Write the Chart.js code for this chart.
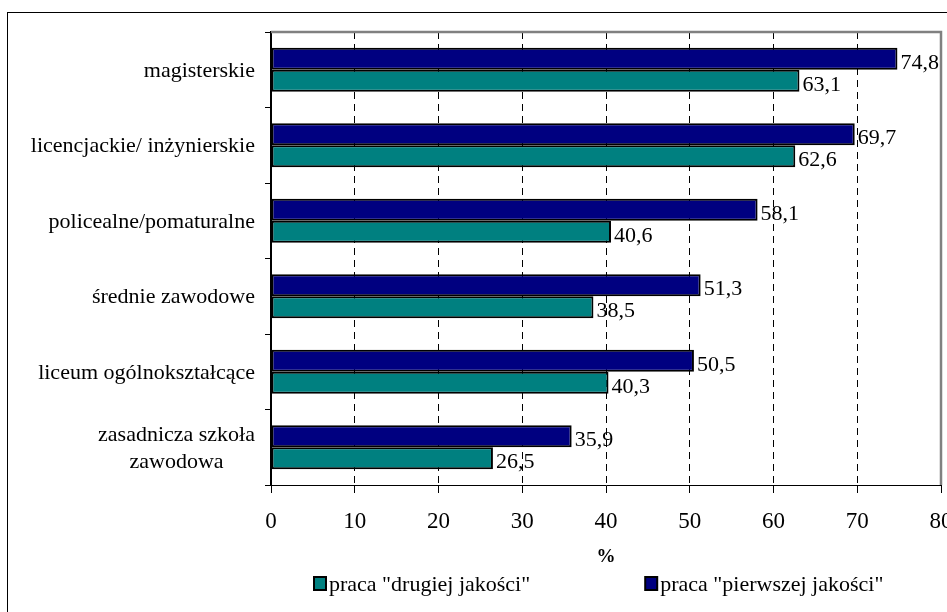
<!DOCTYPE html>
<html>
<head>
<meta charset="utf-8">
<script src="https://cdn.jsdelivr.net/npm/chart.js@4/dist/chart.umd.min.js"></script>
<style>
  html, body { margin: 0; padding: 0; background: #fff; overflow: hidden; }
  #wrap { position: relative; width: 947px; height: 612px; }
</style>
</head>
<body>
<div id="wrap"><canvas id="chartWyksztalcenie" width="947" height="612"></canvas></div>
<script>
// Kategorie wykształcenia (od góry)
const kategorie = [
  ['magisterskie'],
  ['licencjackie/ inżynierskie'],
  ['policealne/pomaturalne'],
  ['średnie zawodowe'],
  ['liceum ogólnokształcące'],
  ['zasadnicza szkoła', 'zawodowa']
];
// Udział (%) wg rodzaju pracy
const pierwszejJakosci = [74.8, 69.7, 58.1, 51.3, 50.5, 35.9];
const drugiejJakosci = [63.1, 62.6, 40.6, 38.5, 40.3, 26.5];
// Oś X
const osXMin = 0;
const osXMax = 80;
const osXKrok = 10;

const FONT = '"Liberation Serif", "Times New Roman", serif';

// Ramka wykresu, etykiety kategorii, wartości słupków i legenda
const rysowanie = {
  id: 'rysowanie',
  beforeDraw(chart) {
    const ctx = chart.ctx;
    ctx.save();
    ctx.strokeStyle = '#000';
    ctx.lineWidth = 1;
    ctx.strokeRect(7.5, 12.5, 1200, 1200);
    ctx.restore();
  },
  afterDatasetsDraw(chart) {
    const ctx = chart.ctx;
    const area = chart.chartArea;
    ctx.save();

    // obramowanie obszaru kreślenia
    ctx.strokeStyle = '#808080';
    ctx.lineWidth = 2.5;
    ctx.beginPath();
    ctx.moveTo(area.left, area.top);
    ctx.lineTo(area.right, area.top);
    ctx.lineTo(area.right, area.bottom);
    ctx.stroke();

    // wartości przy słupkach
    ctx.fillStyle = '#000';
    ctx.font = '22px ' + FONT;
    ctx.textAlign = 'left';
    ctx.textBaseline = 'middle';
    chart.data.datasets.forEach((ds, i) => {
      chart.getDatasetMeta(i).data.forEach((bar, j) => {
        const txt = ds.data[j].toFixed(1).replace('.', ',');
        ctx.fillText(txt, bar.x + 3, bar.y + 4);
      });
    });

    // etykiety kategorii: linie wyśrodkowane względem siebie, blok wyrównany do prawej
    const y = chart.scales.y;
    const prawy = area.left - 16;
    const wys = 27;
    kategorie.forEach((linie, i) => {
      const szer = Math.max(...linie.map(l => ctx.measureText(l).width));
      const cx = prawy - szer / 2;
      const cy = y.getPixelForValue(i) + 1;
      ctx.textAlign = 'center';
      linie.forEach((l, k) => {
        ctx.fillText(l, cx, cy + (k - (linie.length - 1) / 2) * wys);
      });
    });

    // legenda
    const ly = 584;
    let lx = area.left + 43;
    const kolejnosc = [1, 0];
    ctx.font = '22px ' + FONT;
    ctx.textAlign = 'left';
    kolejnosc.forEach(idx => {
      const ds = chart.data.datasets[idx];
      ctx.fillStyle = ds.backgroundColor;
      ctx.fillRect(lx, ly - 7, 12, 13);
      ctx.strokeStyle = '#000';
      ctx.lineWidth = 2;
      ctx.strokeRect(lx, ly - 7, 12, 13);
      ctx.fillStyle = '#000';
      ctx.fillText(ds.label, lx + 15, ly + 1);
      lx += 15 + ctx.measureText(ds.label).width + 115;
    });
    ctx.restore();
  }
};

new Chart(document.getElementById('chartWyksztalcenie'), {
  type: 'bar',
  data: {
    labels: kategorie,
    datasets: [
      {
        label: 'praca "pierwszej jakości"',
        data: pierwszejJakosci,
        backgroundColor: '#000080',
        borderColor: '#000',
        borderWidth: 2,
        borderSkipped: false
      },
      {
        label: 'praca "drugiej jakości"',
        data: drugiejJakosci,
        backgroundColor: '#008080',
        borderColor: '#000',
        borderWidth: 2,
        borderSkipped: false
      }
    ]
  },
  options: {
    indexAxis: 'y',
    responsive: false,
    animation: false,
    datasets: { bar: { barPercentage: 1, categoryPercentage: 0.583 } },
    layout: { padding: { left: 0, top: 32, right: 6, bottom: 44 } },
    plugins: {
      legend: { display: false },
      tooltip: { enabled: false }
    },
    scales: {
      x: {
        min: osXMin,
        max: osXMax,
        afterFit: s => { s.height = 83; s.paddingLeft = 0; s.paddingRight = 0; },
        ticks: {
          stepSize: osXKrok,
          color: '#000',
          padding: 15,
          font: { family: FONT, size: 23 }
        },
        grid: {
          color: c => (c.tick && (c.tick.value === osXMin || c.tick.value === osXMax)) ? 'rgba(0,0,0,0)' : '#000',
          lineWidth: 1,
          tickColor: '#000',
          tickLength: 8
        },
        border: { color: '#000', width: 1, dash: [7, 5] },
        title: {
          display: true,
          text: '%',
          color: '#000',
          padding: 0,
          font: { family: FONT, size: 19, weight: 'bold' }
        }
      },
      y: {
        afterFit: s => { s.width = 271; },
        ticks: { display: false },
        grid: {
          drawOnChartArea: false,
          tickColor: '#000',
          tickLength: 6,
          offset: true
        },
        border: { color: '#000', width: 2 }
      }
    }
  },
  plugins: [rysowanie]
});
</script>
</body>
</html>
